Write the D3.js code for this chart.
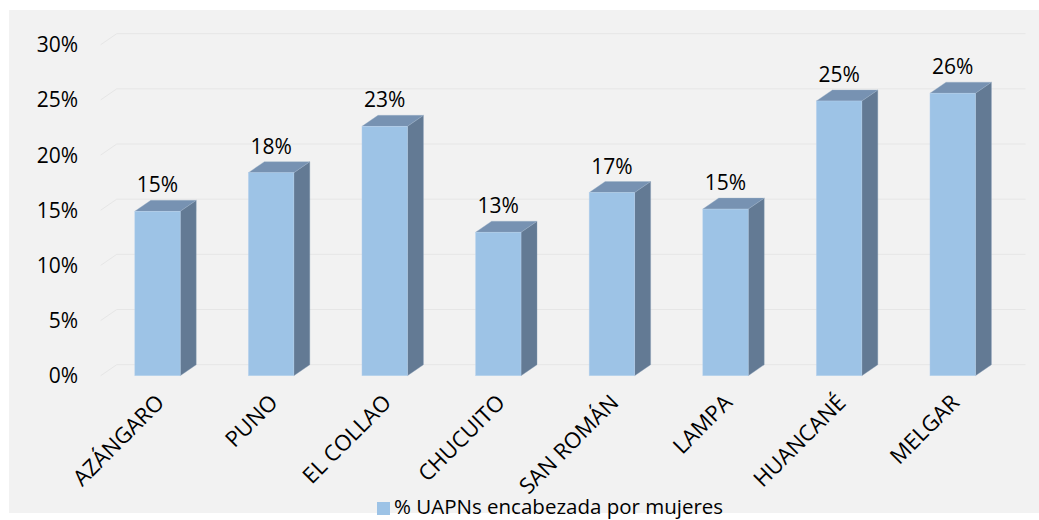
<!DOCTYPE html>
<html>
<head>
<meta charset="utf-8">
<script src="https://cdn.jsdelivr.net/npm/d3@7"></script>
<style>
  html, body { margin: 0; padding: 0; background: #ffffff; }
  svg { display: block; }
  text { font-family: "Open Sans", "Noto Sans", sans-serif; fill: #000; }
</style>
</head>
<body>
<svg id="chart" width="1039" height="520"></svg>
<script>
// Provinces and share of UAPNs headed by women
const categories = ["AZÁNGARO", "PUNO", "EL COLLAO", "CHUCUITO", "SAN ROMÁN", "LAMPA", "HUANCANÉ", "MELGAR"];
const values = [0.149, 0.184, 0.226, 0.130, 0.166, 0.151, 0.249, 0.256];
const yTicks = [0, 0.05, 0.10, 0.15, 0.20, 0.25, 0.30];
const seriesName = "% UAPNs encabezada por mujeres";

const svg = d3.select("#chart");
const W = 1039, H = 520;

// chart area background
svg.append("rect")
  .attr("x", 9).attr("y", 10)
  .attr("width", W - 9).attr("height", 503)
  .attr("fill", "#f2f2f2");

// 3D depth offset
const dx = 16, dy = -11;

const x = d3.scaleBand()
  .domain(categories)
  .range([100.7, 1009.5])
  .paddingInner(0.6)
  .paddingOuter(0.3);

const y = d3.scaleLinear()
  .domain([0, 0.30])
  .range([375.7, 44.7]);

const pct = d3.format(".0%");

// gridlines: side wall diagonal + back wall horizontal
const grid = svg.append("g");
yTicks.forEach(t => {
  const yy = y(t);
  grid.append("path")
    .attr("d", `M${x.range()[0]},${yy} L${x.range()[0] + dx},${yy + dy} L${x.range()[1] + dx},${yy + dy}`)
    .attr("fill", "none")
    .attr("stroke", "#e6e6e6")
    .attr("stroke-width", 1);
});

// y tick labels
svg.append("g").selectAll("text")
  .data(yTicks)
  .join("text")
  .attr("x", 78)
  .attr("y", d => y(d))
  .attr("dy", "0.36em")
  .attr("text-anchor", "end")
  .attr("font-size", 21)
  .text(d => pct(d));

// bar face colours
const frontFill = "#9dc3e6", topFill = "#7792b2", sideFill = "#637a94";
const barData = categories.map((c, i) => ({ c, v: values[i] }));

const bars = svg.append("g").selectAll("g")
  .data(barData)
  .join("g");

bars.each(function(d) {
  const g = d3.select(this);
  const x0 = x(d.c), x1 = x0 + x.bandwidth();
  const y0 = y(0), y1 = y(d.v);
  // side face
  g.append("path")
    .attr("d", `M${x1},${y1} L${x1 + dx},${y1 + dy} L${x1 + dx},${y0 + dy} L${x1},${y0} Z`)
    .attr("fill", sideFill)
    .attr("stroke", "#8aa0b8").attr("stroke-width", 0.6).attr("stroke-opacity", 0.6);
  // top face
  g.append("path")
    .attr("d", `M${x0},${y1} L${x0 + dx},${y1 + dy} L${x1 + dx},${y1 + dy} L${x1},${y1} Z`)
    .attr("fill", topFill)
    .attr("stroke", "#9ab0c8").attr("stroke-width", 0.6).attr("stroke-opacity", 0.6);
  // front face
  g.append("rect")
    .attr("x", x0).attr("y", y1)
    .attr("width", x.bandwidth()).attr("height", y0 - y1)
    .attr("fill", frontFill)
    .attr("stroke", "#b8d3ee").attr("stroke-width", 0.6).attr("stroke-opacity", 0.7);
});

// value labels
svg.append("g").selectAll("text")
  .data(barData)
  .join("text")
  .attr("x", d => x(d.c) + x.bandwidth() / 2)
  .attr("y", d => y(d.v) + dy - 8)
  .attr("text-anchor", "middle")
  .attr("font-size", 21)
  .text(d => pct(d.v));

// category labels, rotated
svg.append("g").selectAll("text")
  .data(categories)
  .join("text")
  .attr("transform", d => `translate(${x(d) + x.bandwidth() / 2 + 8},${404}) rotate(-45)`)
  .attr("text-anchor", "end")
  .attr("font-size", 22)
  .text(d => d);

// legend
const legend = svg.append("g");
legend.append("rect")
  .attr("x", 377).attr("y", 502)
  .attr("width", 13).attr("height", 13)
  .attr("fill", frontFill);
legend.append("text")
  .attr("x", 394)
  .attr("y", 514)
  .attr("font-size", 20.5)
  .text(seriesName);
</script>
</body>
</html>
